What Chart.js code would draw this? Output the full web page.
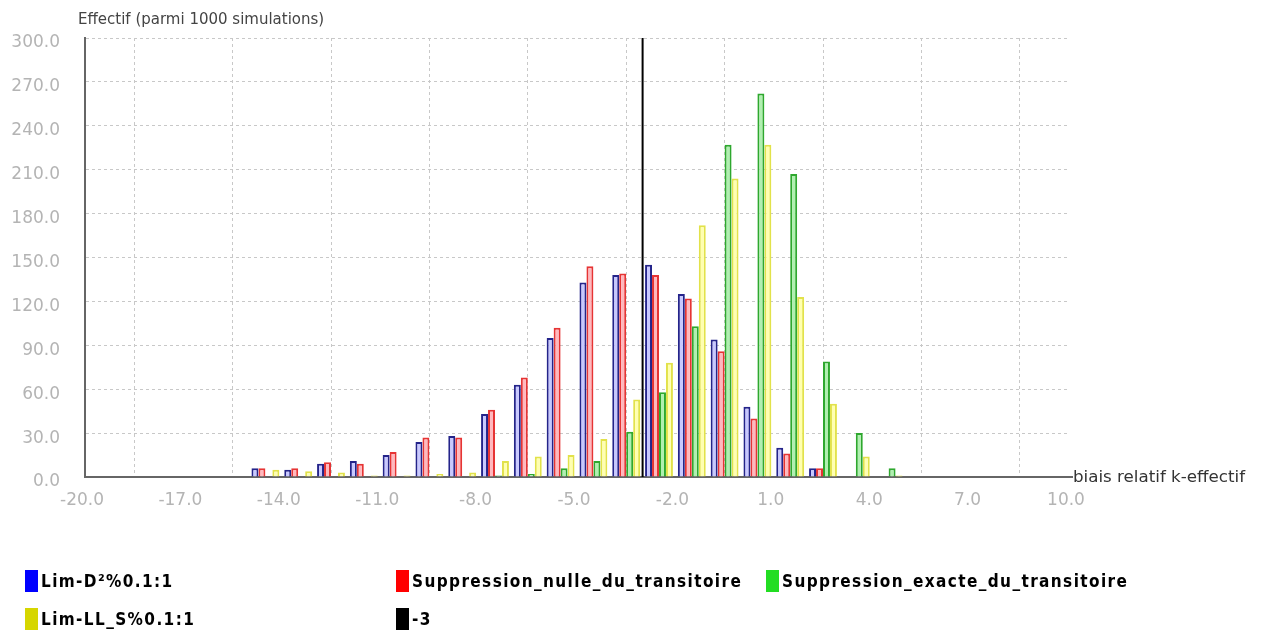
<!DOCTYPE html>
<html><head><meta charset="utf-8">
<script src="https://cdn.jsdelivr.net/npm/chart.js@4.4.0/dist/chart.umd.min.js"></script>
<style>
html,body{margin:0;padding:0;background:#fff;}
#wrap{position:relative;width:1285px;height:631px;overflow:hidden;background:#fff;}
canvas{position:absolute;left:0;top:0;}
.leg{position:absolute;font:bold 17px "DejaVu Sans Condensed","DejaVu Sans",sans-serif;letter-spacing:1.4px;color:#000;display:flex;align-items:center;white-space:nowrap;height:22px;}
.leg i{display:inline-block;width:13px;height:22px;margin-right:3px;}
</style></head><body>
<div id="wrap"><canvas id="c" width="1285" height="631"></canvas></div>
<script>
// ---- data ----
const binCenters = [-14.5,-13.5,-12.5,-11.5,-10.5,-9.5,-8.5,-7.5,-6.5,-5.5,-4.5,-3.5,-2.5,-1.5,-0.5,0.5,1.5,2.5,3.5,4.5];
const limD2      = [6,5,9,11,15,24,28,43,63,95,133,138,145,125,94,48,20,6,0,0];
const nulle      = [6,6,10,9,17,27,27,46,68,102,144,139,138,122,86,40,16,6,0,0];
const exacte     = [0,0,0,0,0,0,0,1,2,6,11,31,58,103,227,262,207,79,30,6];
const limLLS     = [5,4,3,1,1,2,3,11,14,15,26,53,78,172,204,227,123,50,14,1];
const markerX    = -3;
const seriesLabels = ["Lim-D\u00b2%0.1:1","Suppression_nulle_du_transitoire","Suppression_exacte_du_transitoire","Lim-LL_S%0.1:1","-3"];
const xTicks = [-20,-17,-14,-11,-8,-5,-2,1,4,7,10];
const yTicks = [0,30,60,90,120,150,180,210,240,270,300];
const yTitle = "Effectif (parmi 1000 simulations)";
const xTitle = "biais relatif k-effectif";

const fills   = ['#c8c8ff','#ffb8be','#b0f0b0','#ffffb0'];
const borders = ['#24248a','#e63434','#2ea82e','#e2e24a'];
const legendColors = ['#0000ff','#ff0000','#22dd22','#d6d600','#000000'];

const pts = arr => binCenters.map((c,i)=>({x:c,y:arr[i]}));
const seriesArr = [limD2,nulle,exacte,limLLS];

const datasets = seriesArr.map((a,i)=>({
  type:'bar', label:seriesLabels[i], data:pts(a),
  backgroundColor:fills[i], borderColor:borders[i], borderWidth:2,
  barPercentage:1.0, categoryPercentage:0.85
}));
datasets.push({
  type:'line', label:seriesLabels[4],
  data:[{x:markerX,y:yTicks[0]},{x:markerX,y:yTicks[yTicks.length-1]}],
  borderColor:'#000', borderWidth:2, pointRadius:0, fill:false
});

const titlesPlugin = {
  id:'titles',
  afterDraw(chart){
    const ctx = chart.ctx, a = chart.chartArea;
    ctx.save();
    ctx.fillStyle = '#444';
    ctx.font = '15px "DejaVu Sans", sans-serif';
    ctx.textAlign = 'left';
    ctx.textBaseline = 'alphabetic';
    ctx.fillText(yTitle, 78, 24);
    ctx.fillStyle = '#333';
    ctx.font = '16.7px "DejaVu Sans", sans-serif';
    ctx.textBaseline = 'middle';
    ctx.fillText(xTitle, a.right + 4, a.bottom + 1);
    ctx.strokeStyle = '#666'; ctx.lineWidth = 2;
    ctx.beginPath(); ctx.moveTo(a.right, a.bottom); ctx.lineTo(a.right+4, a.bottom); ctx.stroke();
    ctx.restore();
  }
};

const tickFont = {family:'"DejaVu Sans", sans-serif', size:17};
const chart = new Chart(document.getElementById('c'), {
  type:'bar',
  data:{datasets},
  options:{
    responsive:false, animation:false, devicePixelRatio:1,
    layout:{padding:{left:0,top:38,right:216,bottom:114}},
    plugins:{legend:{display:false}, tooltip:{enabled:false}},
    scales:{
      x:{type:'linear', min:xTicks[0], max:xTicks[xTicks.length-1], offset:false,
         afterBuildTicks:s=>{s.ticks = xTicks.map(v=>({value:v}));},
         afterFit:s=>{s.height = 40;},
         ticks:{callback:v=>Number(v).toFixed(1), color:'#b4b4b4', font:tickFont, padding:13, maxRotation:0, autoSkip:false, labelOffset:-3},
         grid:{color:'#c8c8c8', lineWidth:1, drawTicks:false},
         border:{display:true, color:'#666', width:2, dash:[3,3]}
      },
      y:{min:yTicks[0], max:yTicks[yTicks.length-1],
         afterBuildTicks:s=>{s.ticks = yTicks.map(v=>({value:v}));},
         afterFit:s=>{s.width = 85;},
         ticks:{callback:v=>Number(v).toFixed(1), color:'#b4b4b4', font:tickFont, padding:25, labelOffset:5},
         grid:{color:'#c8c8c8', lineWidth:1, drawTicks:false},
         border:{display:true, color:'#666', width:2, dash:[3,3]}
      }
    }
  },
  plugins:[titlesPlugin]
});

// HTML legend built from the chart's datasets
const wrap = document.getElementById('wrap');
const cols = [25,396,766], rows = [570,608];
chart.data.datasets.forEach((d,i)=>{
  const el = document.createElement('div');
  el.className = 'leg';
  el.style.left = cols[i%3]+'px';
  el.style.top = rows[Math.floor(i/3)]+'px';
  const sw = document.createElement('i');
  sw.style.background = legendColors[i];
  el.appendChild(sw);
  el.appendChild(document.createTextNode(d.label));
  wrap.appendChild(el);
});
</script>
</body></html>
